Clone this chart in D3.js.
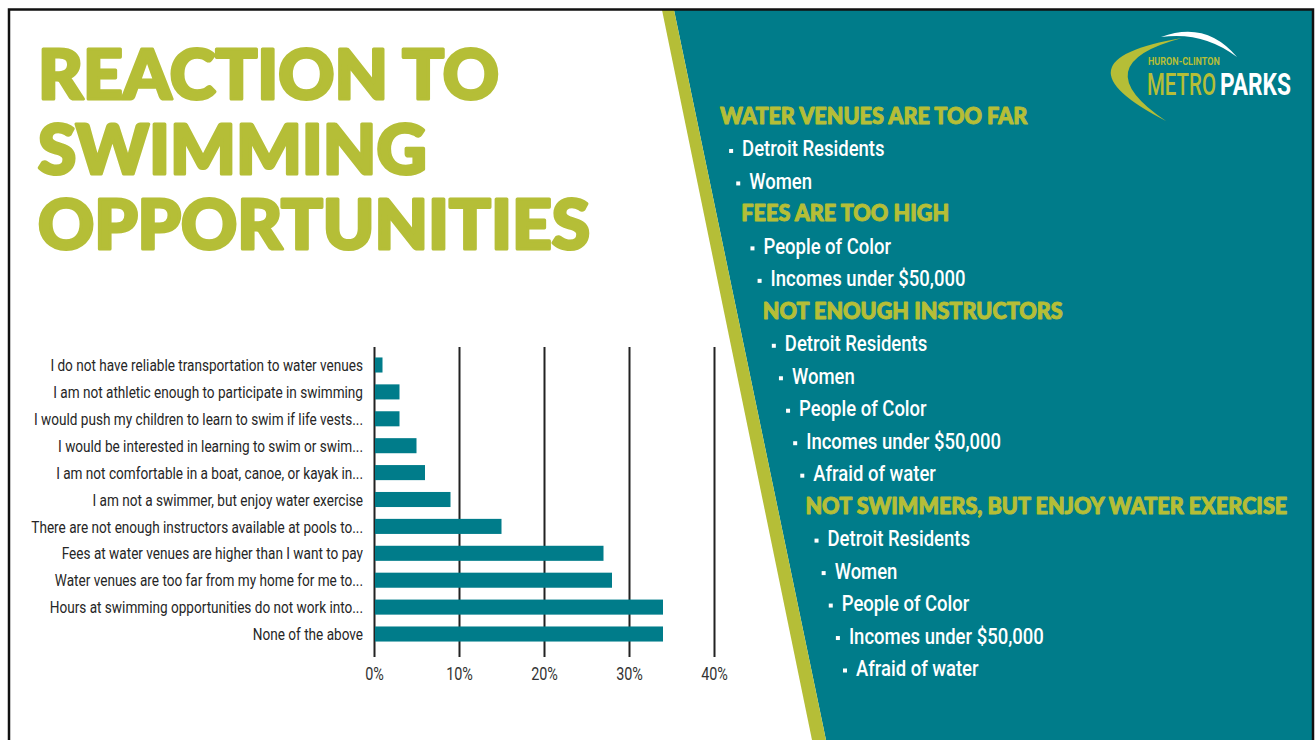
<!DOCTYPE html>
<html>
<head>
<meta charset="utf-8">
<script src="https://cdn.jsdelivr.net/npm/d3@7"></script>
<style>
  html, body { margin: 0; padding: 0; background: #fff; }
  svg { display: block; }
</style>
</head>
<body>
<script>
var width = 1316, height = 740;

// chart data (share of respondents, %)
const categories = [
  "I do not have reliable transportation to water venues",
  "I am not athletic enough to participate in swimming",
  "I would push my children to learn to swim if life vests...",
  "I would be interested in learning to swim or swim...",
  "I am not comfortable in a boat, canoe, or kayak in...",
  "I am not a swimmer, but enjoy water exercise",
  "There are not enough instructors available at pools to...",
  "Fees at water venues are higher than I want to pay",
  "Water venues are too far from my home for me to...",
  "Hours at swimming opportunities do not work into...",
  "None of the above"
];
const values = [1, 3, 3, 5, 6, 9, 15, 27, 28, 34, 34];
const tickValues = [0, 10, 20, 30, 40];

const titleLines = ["REACTION TO", "SWIMMING", "OPPORTUNITIES"];

// right panel: reasons and who said them
const reasons = [
  "WATER VENUES ARE TOO FAR",
  "FEES ARE TOO HIGH",
  "NOT ENOUGH INSTRUCTORS",
  "NOT SWIMMERS, BUT ENJOY WATER EXERCISE"
];
const groups = [
  ["Detroit Residents", "Women"],
  ["People of Color", "Incomes under $50,000"],
  ["Detroit Residents", "Women", "People of Color", "Incomes under $50,000", "Afraid of water"],
  ["Detroit Residents", "Women", "People of Color", "Incomes under $50,000", "Afraid of water"]
];

var teal = "#007c8a", green = "#b5be37";

var svg = d3.select('body').append('svg').attr('width', width).attr('height', height);

// background shapes
svg.append('polygon')
  .attr('points', '674,10 1313,10 1313,740 826,740')
  .attr('fill', teal);
svg.append('polygon')
  .attr('points', '662,10 674,10 826,740 812,740')
  .attr('fill', green);

// slide border
svg.append('path')
  .attr('d', 'M9,740 V9.5 H1313 V740')
  .attr('fill', 'none')
  .attr('stroke', '#111')
  .attr('stroke-width', 2.5);

// squeeze a text horizontally to a given width, anchored at (x, y)
function fitText(sel, x, y, w) {
  var n = sel.node().getComputedTextLength();
  sel.attr('transform', 'translate(' + x + ',' + y + ') scale(' + (w / n) + ',1)');
}

// title (stroke thickens Lato to a black weight)
var title = svg.append('g');
title.selectAll('text')
  .data(titleLines)
  .join('text')
  .attr('x', 38)
  .attr('y', (d, i) => 99 + i * 75)
  .attr('font-family', 'Lato, "Open Sans", sans-serif')
  .attr('font-weight', 900)
  .attr('font-size', 68)
  .attr('fill', green)
  .attr('stroke', green)
  .attr('stroke-width', 3.2)
  .attr('stroke-linejoin', 'round')
  .text(d => d);
var tw = title.selectAll('text').nodes()[2].getComputedTextLength();
var ts = 552 / tw;
title.selectAll('text').attr('transform', function () {
  var x = +d3.select(this).attr('x');
  return 'translate(' + x + ',0) scale(' + ts + ',1) translate(' + (-x) + ',0)';
});

// bar chart
var x = d3.scaleLinear().domain([0, 40]).range([374, 714]);
var y = d3.scaleBand().domain(categories).range([346.7, 652.3]).paddingInner(0.44).paddingOuter(0.4);

var gridTop = 347, gridBottom = 657;

var axis = svg.append('g')
  .attr('transform', 'translate(0,' + gridBottom + ')')
  .call(d3.axisBottom(x).tickValues(tickValues).tickSize(-(gridBottom - gridTop)).tickPadding(10).tickFormat(d => d + '%'));
axis.select('.domain').remove();
axis.selectAll('line').attr('stroke', '#222').attr('stroke-width', 2);
axis.selectAll('text')
  .attr('font-family', 'Roboto, sans-serif')
  .attr('font-size', 18)
  .attr('fill', '#333')
  .attr('transform', 'scale(0.8,1)');

svg.append('g')
  .selectAll('rect')
  .data(values)
  .join('rect')
  .attr('x', x(0) + 1)
  .attr('y', (d, i) => y(categories[i]))
  .attr('height', y.bandwidth())
  .attr('width', d => x(d) - x(0) - 1)
  .attr('fill', teal);

var labels = svg.append('g').selectAll('text')
  .data(categories)
  .join('text')
  .attr('text-anchor', 'end')
  .attr('dy', '0.36em')
  .attr('font-family', 'Roboto, sans-serif')
  .attr('font-size', 17)
  .attr('fill', '#262626')
  .text(d => d);
var lw = labels.nodes()[0].getComputedTextLength();
var ls = 313 / lw;
labels.attr('transform', d => 'translate(363,' + (y(d) + y.bandwidth() / 2) + ') scale(' + ls + ',1)');

// right panel list, stepping along the diagonal
var lines = [];
reasons.forEach(function (r, i) {
  lines.push({ text: r, head: true });
  groups[i].forEach(g => lines.push({ text: g, head: false }));
});
var lx = d3.scaleLinear().domain([0, lines.length - 1]).range([720, 841]);
var ly = d3.scaleLinear().domain([0, lines.length - 1]).range([116, 668]);

var panel = svg.append('g');
var heads = panel.selectAll('text.head')
  .data(lines.filter(d => d.head))
  .join('text')
  .attr('class', 'head')
  .attr('font-family', 'Lato, "Open Sans", sans-serif')
  .attr('font-weight', 900)
  .attr('font-size', 22)
  .attr('fill', green)
  .attr('stroke', green)
  .attr('stroke-width', 1)
  .attr('stroke-linejoin', 'round')
  .text(d => d.text);
var hw = heads.nodes()[3].getComputedTextLength();
var hs = 482 / hw;
heads.attr('transform', d => {
  var i = lines.indexOf(d);
  return 'translate(' + lx(i) + ',' + (ly(i) + 8) + ') scale(' + hs + ',1)';
});

var items = lines.filter(d => !d.head);
panel.selectAll('rect.bullet')
  .data(items)
  .join('rect')
  .attr('class', 'bullet')
  .attr('x', d => lx(lines.indexOf(d)) + 2)
  .attr('y', d => ly(lines.indexOf(d)) + 0.5)
  .attr('width', 4)
  .attr('height', 4)
  .attr('fill', '#fff');
var itemText = panel.selectAll('text.item')
  .data(items)
  .join('text')
  .attr('class', 'item')
  .attr('font-family', 'Roboto, sans-serif')
  .attr('font-weight', 500)
  .attr('font-size', 22)
  .attr('fill', '#fff')
  .text(d => d.text);
var iw = itemText.filter(d => d.text.indexOf('Incomes') === 0).node().getComputedTextLength();
var is = 195 / iw;
itemText.attr('transform', d => {
  var i = lines.indexOf(d);
  return 'translate(' + (lx(i) + 15) + ',' + (ly(i) + 8) + ') scale(' + is + ',1)';
});

// logo
var logo = svg.append('g');
logo.append('path')
  .attr('d', 'M1182,38 Q1048,60.5 1166,121 Q1082,64.5 1182,38 Z')
  .attr('fill', green);
logo.append('path')
  .attr('d', 'M1161,37 Q1206,20 1237,57 Q1203,31 1161,37 Z')
  .attr('fill', '#fff');
var small = logo.append('text')
  .attr('font-family', 'Roboto, sans-serif').attr('font-weight', 700).attr('font-size', 11)
  .attr('fill', green).text('HURON-CLINTON');
fitText(small, 1148, 65, 72);
var metro = logo.append('text')
  .attr('font-family', 'Roboto, sans-serif').attr('font-weight', 500).attr('font-size', 31)
  .attr('fill', green).text('METRO');
fitText(metro, 1147, 95, 69);
var parks = logo.append('text')
  .attr('font-family', 'Roboto, sans-serif').attr('font-weight', 700).attr('font-size', 31)
  .attr('fill', '#fff').text('PARKS');
fitText(parks, 1220, 95, 71);

console.log('ready..');
</script>
</body>
</html>
